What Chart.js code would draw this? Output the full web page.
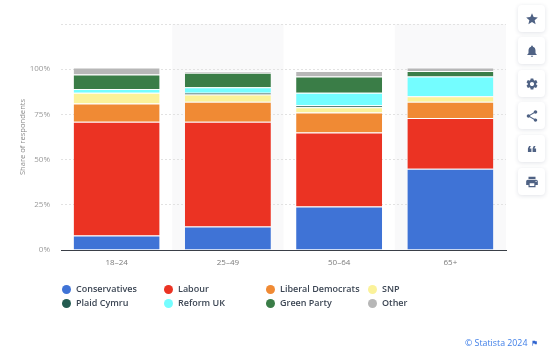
<!DOCTYPE html>
<html><head><meta charset="utf-8">
<script src="https://cdn.jsdelivr.net/npm/chart.js@4"></script>
<style>
html,body{margin:0;padding:0;background:#fff;width:550px;height:350px;overflow:hidden;font-family:"Open Sans",sans-serif}
#wrap{position:absolute;left:0;top:0;width:550px;height:350px}
#legend{position:absolute;left:0;top:0;width:550px;height:350px;pointer-events:none}
.li{position:absolute;font-size:9px;font-weight:600;color:#3c4654;line-height:12px;white-space:nowrap}
.li i{position:absolute;left:-14px;top:1.5px;width:9px;height:9px;border-radius:50%}
.btn{position:absolute;left:518px;width:27px;height:27px;background:#fff;border-radius:4px;box-shadow:0 1px 4px rgba(40,60,90,.14)}
.btn svg{position:absolute;left:6.5px;top:6.5px;width:14px;height:14px;fill:#4f6284}
#src{position:absolute;left:465px;top:337px;font-size:8.8px;color:#3f7fe8;line-height:12px;white-space:nowrap}
#flag{position:absolute;left:531px;top:339px;width:7px;height:8px;fill:#2f64d0}
</style></head><body>
<div id="wrap"><canvas id="c" width="550" height="350"></canvas></div>
<div id="legend"></div>
<div id="src">© Statista 2024</div>
<svg id="flag" viewBox="0 0 24 24"><path d="M14.4 6L14 4H5v17h2v-7h5.6l.4 2h7V6z"/></svg>
<script>
const categories = ["18-24","25-49","50-64","65+"];
const conservatives = [8,13,24,45];
const labour = [63,58,41,28];
const libDems = [10,11,11,9];
const snp = [6,4,3,3];
const plaidCymru = [0,1,1,0];
const reformUK = [2,3,7,11];
const greenParty = [8,8,9,3];
const other = [4,1,3,2];
const tickValues = [0,25,50,75,100];
const seriesNames = ["Conservatives","Labour","Liberal Democrats","SNP","Plaid Cymru","Reform UK","Green Party","Other"];
const seriesColors = ["#3f73d6","#eb3323","#f08a34","#fbf29a","#235b50","#74fdff","#3a7d47","#b7b7b7"];
const seriesValues = [conservatives,labour,libDems,snp,plaidCymru,reformUK,greenParty,other];

const bandShade = {
  id:"bandShade",
  beforeDraw(chart){
    const {ctx,chartArea:a} = chart;
    const w = (a.right-a.left)/categories.length;
    ctx.save();
    ctx.fillStyle = "#f9f9fa";
    categories.forEach((c,i)=>{ if(i%2===1) ctx.fillRect(a.left+i*w,a.top,w,a.bottom-a.top); });
    ctx.restore();
  }
};

new Chart(document.getElementById("c"),{
  type:"bar",
  plugins:[bandShade],
  data:{labels:categories,datasets:seriesNames.map((n,i)=>({
    label:n,data:seriesValues[i],backgroundColor:seriesColors[i],
    borderColor:"rgba(255,255,255,0.75)",borderWidth:{top:1,bottom:0,left:0,right:0},borderSkipped:false,
    categoryPercentage:0.773,barPercentage:1
  }))},
  options:{
    responsive:false,animation:false,
    layout:{padding:{top:24,right:44,left:0,bottom:0}},
    plugins:{legend:{display:false},tooltip:{enabled:false}},
    scales:{
      x:{stacked:true,
        afterFit(s){s.height=100;},
        grid:{display:false,drawTicks:false},
        border:{display:true,color:"#3a3f47",width:1,z:2},
        ticks:{color:"#7a7a7a",font:{family:"Open Sans",size:8},padding:8,
          callback(v){return this.getLabelForValue(v).replace("-","–");}}
      },
      y:{stacked:true,min:0,max:125,
        afterFit(s){s.width=61;},
        afterBuildTicks(s){s.ticks=tickValues.concat([125]).map(v=>({value:v}));},
        grid:{color:"#e2e2e2",drawTicks:false,tickLength:0},
        border:{display:false,dash:[2,2]},
        title:{display:true,text:"Share of respondents",color:"#8a8a8a",font:{family:"Open Sans",size:7.6},padding:{top:18,bottom:0}},
        ticks:{color:"#9a9a9a",font:{family:"Open Sans",size:8},padding:11,
          callback(v){return v===125?"":v+"%";}}
      }
    }
  }
});

const colX = [76,178,280,382];
const rowY = [283,297];
const order = [[0,1,2,3],[4,5,6,7]];
const lg = document.getElementById("legend");
order.forEach((row,r)=>row.forEach((idx,c)=>{
  const d=document.createElement("div");d.className="li";
  d.style.left=colX[c]+"px";d.style.top=rowY[r]+"px";
  d.textContent=seriesNames[idx];
  const i=document.createElement("i");i.style.background=seriesColors[idx];d.appendChild(i);
  lg.appendChild(d);
}));

const icons = [
 '<path d="M12 17.27L18.18 21l-1.64-7.03L22 9.24l-7.19-.61L12 2 9.19 8.63 2 9.24l5.46 4.73L5.82 21z"/>',
 '<path d="M12 22c1.1 0 2-.9 2-2h-4c0 1.1.9 2 2 2zm6-6v-5c0-3.07-1.63-5.64-4.5-6.32V4c0-.83-.67-1.5-1.5-1.5s-1.5.67-1.5 1.5v.68C7.64 5.36 6 7.92 6 11v5l-2 2v1h16v-1l-2-2z"/>',
 '<path d="M19.14 12.94c.04-.3.06-.61.06-.94 0-.32-.02-.64-.07-.94l2.03-1.58a.49.49 0 0 0 .12-.61l-1.92-3.32a.488.488 0 0 0-.59-.22l-2.39.96c-.5-.38-1.03-.7-1.62-.94l-.36-2.54a.484.484 0 0 0-.48-.41h-3.84c-.24 0-.43.17-.47.41l-.36 2.54c-.59.24-1.13.57-1.62.94l-2.39-.96c-.22-.08-.47 0-.59.22L2.74 8.87c-.12.21-.08.47.12.61l2.03 1.58c-.05.3-.09.63-.09.94s.02.64.07.94l-2.03 1.58a.49.49 0 0 0-.12.61l1.92 3.32c.12.22.37.29.59.22l2.39-.96c.5.38 1.03.7 1.62.94l.36 2.54c.05.24.24.41.48.41h3.84c.24 0 .44-.17.47-.41l.36-2.54c.59-.24 1.13-.56 1.62-.94l2.39.96c.22.08.47 0 .59-.22l1.92-3.32c.12-.22.07-.47-.12-.61l-2.01-1.58zM12 15.6c-1.98 0-3.6-1.62-3.6-3.6s1.62-3.6 3.6-3.6 3.6 1.62 3.6 3.6-1.62 3.6-3.6 3.6z"/>',
 '<path d="M18 16.08c-.76 0-1.44.3-1.96.77L8.91 12.7c.05-.23.09-.46.09-.7s-.04-.47-.09-.7l7.05-4.11c.54.5 1.25.81 2.04.81 1.66 0 3-1.34 3-3s-1.34-3-3-3-3 1.34-3 3c0 .24.04.47.09.7L8.04 9.81C7.5 9.31 6.79 9 6 9c-1.66 0-3 1.34-3 3s1.34 3 3 3c.79 0 1.5-.31 2.04-.81l7.12 4.16c-.05.21-.08.43-.08.65 0 1.61 1.31 2.92 2.92 2.92s2.92-1.31 2.92-2.92-1.31-2.92-2.92-2.92z"/>',
 '<g transform="rotate(180 12 12)"><path d="M6 17h3l2-4V7H5v6h3zm8 0h3l2-4V7h-6v6h3z"/></g>',
 '<path d="M19 8H5c-1.66 0-3 1.34-3 3v6h4v4h12v-4h4v-6c0-1.66-1.34-3-3-3zm-3 11H8v-5h8v5zm3-7c-.55 0-1-.45-1-1s.45-1 1-1 1 .45 1 1-.45 1-1 1zm-1-9H6v4h12V3z"/>'
];
const btnTops = [5,37,70,102,135,168];
icons.forEach((p,i)=>{
  const b=document.createElement("div");b.className="btn";b.style.top=btnTops[i]+"px";
  b.innerHTML='<svg viewBox="0 0 24 24">'+p+'</svg>';
  document.body.appendChild(b);
});
</script>
</body></html>
